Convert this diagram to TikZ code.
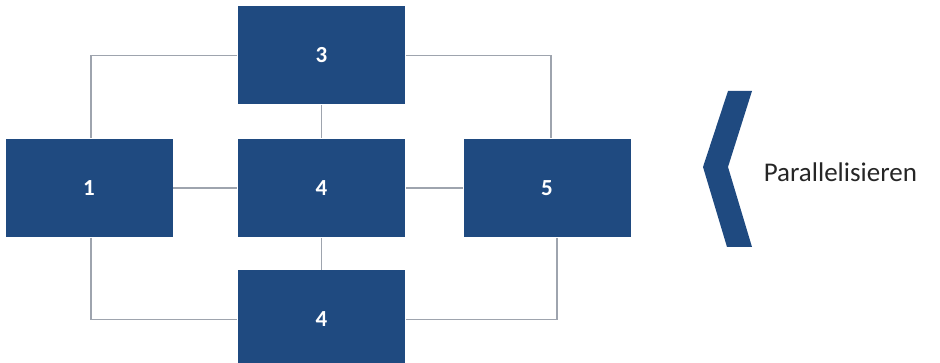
\documentclass[tikz,border=0pt]{standalone}
\usepackage{fontspec}
\setmainfont{Carlito}
\usetikzlibrary{positioning}
\definecolor{blockblue}{RGB}{31,74,128}
\definecolor{linkgray}{RGB}{158,164,174}

\begin{document}
\begin{tikzpicture}[x=1pt,y=-1pt,node distance=33pt,line width=1.5pt]
        \tikzstyle{block}=[fill=blockblue,text=white,inner sep=0pt,
            minimum width=167pt,minimum height=98pt,
            font=\fontsize{23}{23}\selectfont\bfseries]
        \tikzstyle{link}=[draw=linkgray]

        \useasboundingbox (0,0) rectangle (940,363);

        \node[block] (4a) at (321.5,188) {4};
        \node[block] (3) [above=of 4a] {3};
        \node[block] (4b) [below=32pt of 4a] {4};
        \node[block] (1) [left=64pt of 4a] {1};
        \node[block] (5) [right=57pt of 4a] {5};

        \draw[link] ([xshift=2pt]1.north) |- (3.west);
        \draw[link] (3.east) -| ([xshift=4pt]5.north);
        \draw[link] ([xshift=2pt]1.south) |- (4b.west);
        \draw[link] (4b.east) -| ([xshift=10pt]5.south);
        \path[link]
            (1) edge (4a)
            (4a) edge (5)
            (3) edge (4a)
            (4a) edge (4b);

        % chevron
        \fill[blockblue] (728,91) -- (752,91) -- (728,167) -- (752,247)
            -- (727,247) -- (703,167) -- cycle;
        \node[anchor=west,inner sep=0pt,text=black!85,
            font=\fontsize{27}{27}\selectfont] (par) at (763,172) {Parallelisieren};
\end{tikzpicture}
\end{document}
